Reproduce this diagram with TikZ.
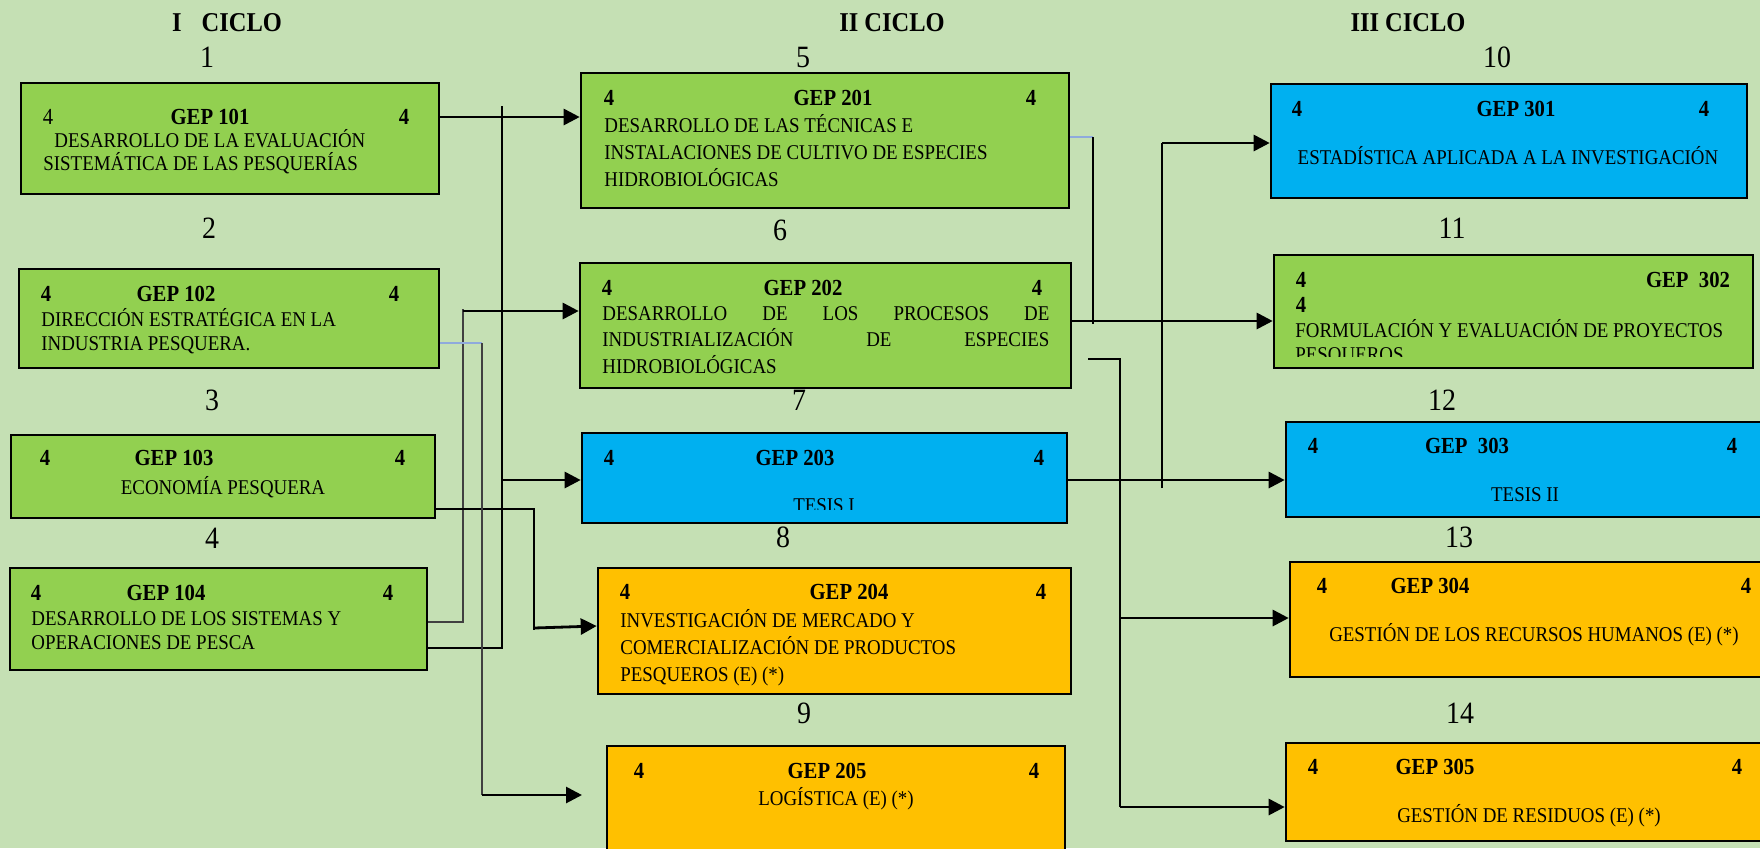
\documentclass[tikz,border=0pt]{standalone}
\usepackage{fontspec}
\setmainfont{Liberation Serif}[FakeStretch=0.9]
\usepackage{xcolor}
\usetikzlibrary{
	arrows.meta,
	positioning,
	fit
	}
\definecolor{fondo}{HTML}{C5E0B4}
\definecolor{verde}{HTML}{92D050}
\definecolor{azul}{HTML}{00B0F0}
\definecolor{naranja}{HTML}{FFC000}
\definecolor{azulclaro}{HTML}{8FAADC}
\definecolor{gris}{HTML}{404040}
\tikzstyle{caja}=[draw,line width=1.3pt,inner sep=0pt]
\tikzstyle{flecha}=[line width=1.4pt,-{Triangle[length=8pt,width=8pt]}]
\tikzstyle{linea}=[line width=0.6pt]
\tikzstyle{linea-azul}=[line width=0.8pt,azulclaro]
\tikzstyle{cab}=[inner sep=0pt,anchor=base,font=\fontsize{11.5}{13}\selectfont\bfseries]
\tikzstyle{texto}=[inner sep=0pt,anchor=base west,align=left,font=\fontsize{10.5}{12.5}\selectfont]
\tikzstyle{texto-c}=[inner sep=0pt,anchor=base,font=\fontsize{10.5}{12.5}\selectfont]
\tikzstyle{numero}=[inner sep=0pt,anchor=base,font=\fontsize{15.5}{17}\selectfont]
\tikzstyle{ciclo}=[inner sep=0pt,anchor=base,font=\fontsize{13.6}{15}\selectfont\bfseries]

\begin{document}
\begin{tikzpicture}[x=0.5pt,y=-0.5pt]
\clip (0,0) rectangle (1760,848);
\fill[fondo] (0,0) rectangle (1760,848);

\node[ciclo] (ciclo1) at (227,31) {I\hspace{10pt}CICLO};
\node[ciclo] (ciclo2) at (892,31) {II CICLO};
\node[ciclo] (ciclo3) at (1408,31) {III CICLO};

\node[caja,fill=verde,fit={(21,83) (439,194)}] (c101) {};
\node[caja,fill=verde,fit={(19,269) (439,368)}] (c102) {};
\node[caja,fill=verde,fit={(11,435) (435,518)}] (c103) {};
\node[caja,fill=verde,fit={(10,568) (427,670)}] (c104) {};
\node[caja,fill=verde,fit={(581,73) (1069,208)}] (c201) {};
\node[caja,fill=verde,fit={(580,263) (1071,388)}] (c202) {};
\node[caja,fill=azul,fit={(582,433) (1067,523)}] (c203) {};
\node[caja,fill=naranja,fit={(598,568) (1071,694)}] (c204) {};
\node[caja,fill=naranja,fit={(607,746) (1065,870)}] (c205) {};
\node[caja,fill=azul,fit={(1271,84) (1747,198)}] (c301) {};
\node[caja,fill=verde,fit={(1274,255) (1753,368)}] (c302) {};
\node[caja,fill=azul,fit={(1286,422) (1780,517)}] (c303) {};
\node[caja,fill=naranja,fit={(1290,562) (1780,677)}] (c304) {};
\node[caja,fill=naranja,fit={(1286,743) (1780,841)}] (c305) {};

\coordinate (b104a) at (463,309);
\coordinate (b104b) at (502,106);
\coordinate (b103) at (534,630);
\coordinate (b102) at (482,343);
\coordinate (fin205) at (582,795);
\coordinate (b201) at (1093,137);
\coordinate (b202) at (1120,359);
\coordinate (b203) at (1162,488);

\draw[flecha] (c101.east |- 0,117) -- (c201.west |- 0,117);
\draw[linea,gris] (c104.east |- 0,622) -| (b104a);
\draw[flecha] (b104a |- 0,311) -- (c202.west |- 0,311);
\draw[linea] (c104.east |- 0,648) -| (b104b);
\draw[flecha] (b104b |- 0,480) -- (c203.west |- 0,480);
\draw[linea] (c103.east |- 0,509) -| (b103);
\draw[flecha] (b103 |- 0,628) -- (c204.west |- 0,626);
\draw[linea-azul] (c102.east |- 0,343) -- (b102);
\draw[linea,gris] (b102) -- (b102 |- fin205);
\draw[flecha] (b102 |- fin205) -- (fin205);

\draw[linea-azul] (c201.east |- b201) -- (b201);
\draw[linea] (b201) -- (b201 |- 0,324);
\draw[flecha] (c202.east |- 0,321) -- (c302.west |- 0,321);
\draw[linea] (1088,359) -- (b202) -- (b202 |- 0,807);
\draw[flecha] (b202 |- 0,618) -- (c304.west |- 0,618);
\draw[flecha] (b202 |- 0,807) -- (c305.west |- 0,807);
\draw[flecha] (c203.east |- 0,480) -- (c303.west |- 0,480);
\draw[linea] (b203) -- (b203 |- 0,143);
\draw[flecha] (b203 |- 0,143) -- (c301.west |- 0,143);

\node[numero] (n1) at (207,67.5) {1};
\node[numero] (n2) at (209,238.5) {2};
\node[numero] (n3) at (212,410.5) {3};
\node[numero] (n4) at (212,548.5) {4};
\node[numero] (n5) at (803,67.5) {5};
\node[numero] (n6) at (780,240.5) {6};
\node[numero] (n7) at (799,410.5) {7};
\node[numero] (n8) at (783,547.5) {8};
\node[numero] (n9) at (804,723.5) {9};
\node[numero] (n10) at (1497,67.5) {10};
\node[numero] (n11) at (1452,238.5) {11};
\node[numero] (n12) at (1442,410.5) {12};
\node[numero] (n13) at (1459,547.5) {13};
\node[numero] (n14) at (1460,723.5) {14};

\node[cab,font=\fontsize{11.5}{13}\selectfont] (c101i) at (48,124.5) {4};
\node[cab] (c101c) at (210,124.5) {GEP 101};
\node[cab] (c101d) at (404,124.5) {4};
\node[texto,font=\fontsize{10.5}{11.5}\selectfont] (c101t) at (43,170) {\hspace*{5.5pt}DESARROLLO DE LA EVALUACIÓN\\SISTEMÁTICA DE LAS PESQUERÍAS};

\node[cab] (c102i) at (46,301.5) {4};
\node[cab] (c102c) at (176,301.5) {GEP 102};
\node[cab] (c102d) at (394,301.5) {4};
\node[texto,font=\fontsize{10.5}{12.25}\selectfont] (c102t) at (41,350.5) {DIRECCIÓN ESTRATÉGICA EN LA\\INDUSTRIA PESQUERA.};

\node[cab] (c103i) at (45,465.5) {4};
\node[cab] (c103c) at (174,465.5) {GEP 103};
\node[cab] (c103d) at (400,465.5) {4};
\node[texto-c] (c103t) at (223,494) {ECONOMÍA PESQUERA};

\node[cab] (c104i) at (36,600.5) {4};
\node[cab] (c104c) at (166,600.5) {GEP 104};
\node[cab] (c104d) at (388,600.5) {4};
\node[texto,font=\fontsize{10.5}{12.25}\selectfont] (c104t) at (31,649.5) {DESARROLLO DE LOS SISTEMAS Y\\OPERACIONES DE PESCA};

\node[cab] (c201i) at (609,105.5) {4};
\node[cab] (c201c) at (833,105.5) {GEP 201};
\node[cab] (c201d) at (1031,105.5) {4};
\node[texto,font=\fontsize{10.5}{13.5}\selectfont] (c201t) at (604,186) {DESARROLLO DE LAS TÉCNICAS E\\INSTALACIONES DE CULTIVO DE ESPECIES\\HIDROBIOLÓGICAS};

\node[cab] (c202i) at (607,295.5) {4};
\node[cab] (c202c) at (803,295.5) {GEP 202};
\node[cab] (c202d) at (1037,295.5) {4};
\node[texto,font=\fontsize{10.5}{13.25}\selectfont] (c202t) at (602,373) {\makebox[223.5pt][s]{DESARROLLO DE LOS PROCESOS DE}\\\makebox[223.5pt][s]{INDUSTRIALIZACIÓN DE ESPECIES}\\HIDROBIOLÓGICAS};

\node[cab] (c203i) at (609,465.5) {4};
\node[cab] (c203c) at (795,465.5) {GEP 203};
\node[cab] (c203d) at (1039,465.5) {4};
\begin{scope}
\clip (582,433) rectangle (1067,509);
\node[texto-c] (c203t) at (824,512) {TESIS I};
\end{scope}

\node[cab] (c204i) at (625,599.5) {4};
\node[cab] (c204c) at (849,599.5) {GEP 204};
\node[cab] (c204d) at (1041,599.5) {4};
\node[texto,font=\fontsize{10.5}{13.5}\selectfont] (c204t) at (620,681) {INVESTIGACIÓN DE MERCADO Y\\COMERCIALIZACIÓN DE PRODUCTOS\\PESQUEROS (E) (*)};

\node[cab] (c205i) at (639,778.5) {4};
\node[cab] (c205c) at (827,778.5) {GEP 205};
\node[cab] (c205d) at (1034,778.5) {4};
\node[texto-c] (c205t) at (836,805) {LOGÍSTICA (E) (*)};

\node[cab] (c301i) at (1297,116.5) {4};
\node[cab] (c301c) at (1516,116.5) {GEP 301};
\node[cab] (c301d) at (1704,116.5) {4};
\node[texto-c] (c301t) at (1508,164) {ESTADÍSTICA APLICADA A LA INVESTIGACIÓN};

\node[cab] (c302i) at (1301,287.5) {4};
\node[cab] (c302c) at (1688,287.5) {GEP\ \ 302};
\node[cab] (c302d) at (1301,312.5) {4};
\begin{scope}
\clip (1274,255) rectangle (1753,356);
\node[texto,font=\fontsize{10.5}{12}\selectfont] (c302t) at (1295,361) {FORMULACIÓN Y EVALUACIÓN DE PROYECTOS\\PESQUEROS};
\end{scope}

\node[cab] (c303i) at (1313,453.5) {4};
\node[cab] (c303c) at (1467,453.5) {GEP\ \ 303};
\node[cab] (c303d) at (1732,453.5) {4};
\node[texto-c] (c303t) at (1525,501) {TESIS II};

\node[cab] (c304i) at (1322,593.5) {4};
\node[cab] (c304c) at (1430,593.5) {GEP 304};
\node[cab] (c304d) at (1746,593.5) {4};
\node[texto-c] (c304t) at (1534,641) {GESTIÓN DE LOS RECURSOS HUMANOS (E) (*)};

\node[cab] (c305i) at (1313,774.5) {4};
\node[cab] (c305c) at (1435,774.5) {GEP 305};
\node[cab] (c305d) at (1737,774.5) {4};
\node[texto-c] (c305t) at (1529,822) {GESTIÓN DE RESIDUOS (E) (*)};
\end{tikzpicture}
\end{document}
